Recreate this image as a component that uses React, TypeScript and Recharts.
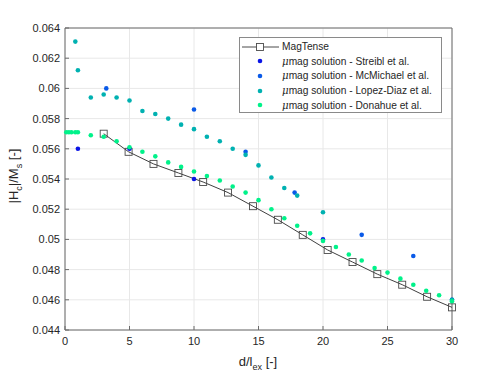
import { ScatterChart, Scatter, XAxis, YAxis, CartesianGrid } from "recharts"

// MagTense curve (line with open squares)
const magX = [3, 4.93, 6.86, 8.79, 10.71, 12.64, 14.57, 16.5, 18.43, 20.36, 22.29, 24.21, 26.14, 28.07, 30]
const magY = [0.057, 0.0558, 0.055, 0.0544, 0.0538, 0.0531, 0.0522, 0.0513, 0.0503, 0.0493, 0.0485, 0.0477, 0.047, 0.0462, 0.0455]

// micromagnetic reference solutions
const streiblX = [1, 5, 10, 20, 30]
const streiblY = [0.056, 0.056, 0.054, 0.05, 0.046]

const mcmichaelX = [3.2, 10, 14, 17.8, 23, 27]
const mcmichaelY = [0.06, 0.0586, 0.0558, 0.0531, 0.0503, 0.0489]

const lopezX = [0.8, 1, 2, 3, 4, 5, 6, 7, 8, 9, 10, 11, 12, 13, 14, 15, 16, 17, 18, 20, 30]
const lopezY = [0.0631, 0.0612, 0.0594, 0.0596, 0.0594, 0.0592, 0.0585, 0.0583, 0.058, 0.0576, 0.0573, 0.0568, 0.0565, 0.056, 0.0556, 0.0549, 0.0541, 0.0534, 0.0529, 0.0518, 0.046]

const donahueX = [0.1, 0.3, 0.5, 0.8, 1, 2, 3, 4, 5, 6, 7, 8, 9, 10, 11, 12, 13, 14, 15, 16, 17, 18, 19, 20, 21, 22, 23, 24, 25, 26, 27, 28, 29, 30]
const donahueY = [0.0571, 0.0571, 0.0571, 0.0571, 0.0571, 0.0569, 0.0568, 0.0565, 0.0561, 0.0558, 0.0555, 0.0551, 0.0548, 0.0545, 0.0542, 0.0539, 0.0535, 0.0531, 0.0526, 0.052, 0.0514, 0.0509, 0.0504, 0.0499, 0.0495, 0.049, 0.0486, 0.0481, 0.0478, 0.0474, 0.047, 0.0466, 0.0463, 0.0459]

const xTicks = [0, 5, 10, 15, 20, 25, 30]
const yTicks = [0.044, 0.046, 0.048, 0.05, 0.052, 0.054, 0.056, 0.058, 0.06, 0.062, 0.064]

const zip = (xs: number[], ys: number[]) => xs.map((x, i) => ({ x, y: ys[i] }))

const refSeries = [
  { name: "Streibl et al.", color: "#0a14e6", data: zip(streiblX, streiblY) },
  { name: "McMichael et al.", color: "#0a5ae8", data: zip(mcmichaelX, mcmichaelY) },
  { name: "Lopez-Diaz et al.", color: "#00b1b1", data: zip(lopezX, lopezY) },
  { name: "Donahue et al.", color: "#00f28a", data: zip(donahueX, donahueY) },
]

const FONT = "'Liberation Sans', Arial, sans-serif"
const AXIS = "#6b6b6b"
const TEXT = "#262626"

const fmtY = (v: number) => String(Number(v.toFixed(3)))

const dot = (color: string) => (p: any) => <circle cx={p.cx} cy={p.cy} r={2.3} fill={color} />

const square = (p: any) => (
  <rect x={p.cx - 3.5} y={p.cy - 3.5} width={7} height={7} fill="none" stroke="#4a4a4a" strokeWidth={0.9} />
)

function XTitle() {
  return (
    <text x={258} y={366} textAnchor="middle" fontFamily={FONT} fontSize={13} fill={TEXT}>
      <tspan>d/l</tspan>
      <tspan dy={4} fontSize={9}>ex</tspan>
      <tspan dy={-4}> [-]</tspan>
    </text>
  )
}

function YTitle() {
  return (
    <text x={18} y={176} transform="rotate(-90, 18, 176)" textAnchor="middle" fontFamily={FONT} fontSize={13} fill={TEXT}>
      <tspan>|H</tspan>
      <tspan dy={4} fontSize={9}>c</tspan>
      <tspan dy={-4}>|/M</tspan>
      <tspan dy={4} fontSize={9}>s</tspan>
      <tspan dy={-4}> [-]</tspan>
    </text>
  )
}

function LegendBox() {
  const row = { height: 14.6, display: "flex", alignItems: "center", whiteSpace: "nowrap" } as const
  return (
    <div
      style={{
        position: "absolute", left: 239, top: 37, width: 203, height: 76,
        border: "1px solid #8a8a8a", background: "#fff", fontFamily: FONT, fontSize: 10.2, color: TEXT,
        paddingTop: 1.5, boxSizing: "border-box", overflow: "visible",
      }}
    >
      <div style={row}>
        <svg width={42} height={14} style={{ flex: "none" }}>
          <line x1={2} x2={39} y1={7} y2={7} stroke="#4a4a4a" strokeWidth={1} />
          <rect x={16.5} y={3.5} width={7} height={7} fill="#fff" stroke="#4a4a4a" strokeWidth={0.9} />
        </svg>
        <span>MagTense</span>
      </div>
      {refSeries.map((s) => (
        <div key={s.name} style={row}>
          <svg width={42} height={14} style={{ flex: "none" }}>
            <circle cx={20} cy={7} r={2.3} fill={s.color} />
          </svg>
          <span><i style={{ fontFamily: "'DejaVu Serif', serif" }}>μ</i>mag solution - {s.name}</span>
        </div>
      ))}
    </div>
  )
}

export default function App() {
  return (
    <div style={{ position: "absolute", left: 0, top: 0, width: 500, height: 375, background: "#fff" }}>
      <ScatterChart width={500} height={375} margin={{ top: 27, right: 47, bottom: 25, left: 8 }}>
        <CartesianGrid stroke="#e8e8e8" strokeWidth={1} />
        <XAxis
          type="number" dataKey="x" domain={[0, 30]} ticks={xTicks} height={20}
          stroke={AXIS} tickSize={-4} tickMargin={11} interval={0}
          tick={{ fontFamily: FONT, fontSize: 11, fill: TEXT }}
          label={<XTitle />}
        />
        <XAxis
          xAxisId="top" orientation="top" type="number" dataKey="x" domain={[0, 30]} ticks={xTicks}
          height={1} stroke={AXIS} tickSize={-4} tick={false}
        />
        <YAxis
          type="number" dataKey="y" domain={[0.044, 0.064]} ticks={yTicks} width={57}
          stroke={AXIS} tickSize={-4} tickMargin={9} interval={0} tickFormatter={fmtY}
          tick={{ fontFamily: FONT, fontSize: 11, fill: TEXT }}
          label={<YTitle />}
        />
        <YAxis
          yAxisId="right" orientation="right" type="number" dataKey="y" domain={[0.044, 0.064]} ticks={yTicks}
          width={1} stroke={AXIS} tickSize={-4} tick={false}
        />
        <Scatter
          name="MagTense" data={zip(magX, magY)} fill="none"
          line={{ stroke: "#404040", strokeWidth: 1 }} lineType="joint"
          shape={square} isAnimationActive={false}
        />
        {refSeries.map((s) => (
          <Scatter key={s.name} name={s.name} data={s.data} fill={s.color} shape={dot(s.color)} isAnimationActive={false} />
        ))}
      </ScatterChart>
      <LegendBox />
    </div>
  )
}
